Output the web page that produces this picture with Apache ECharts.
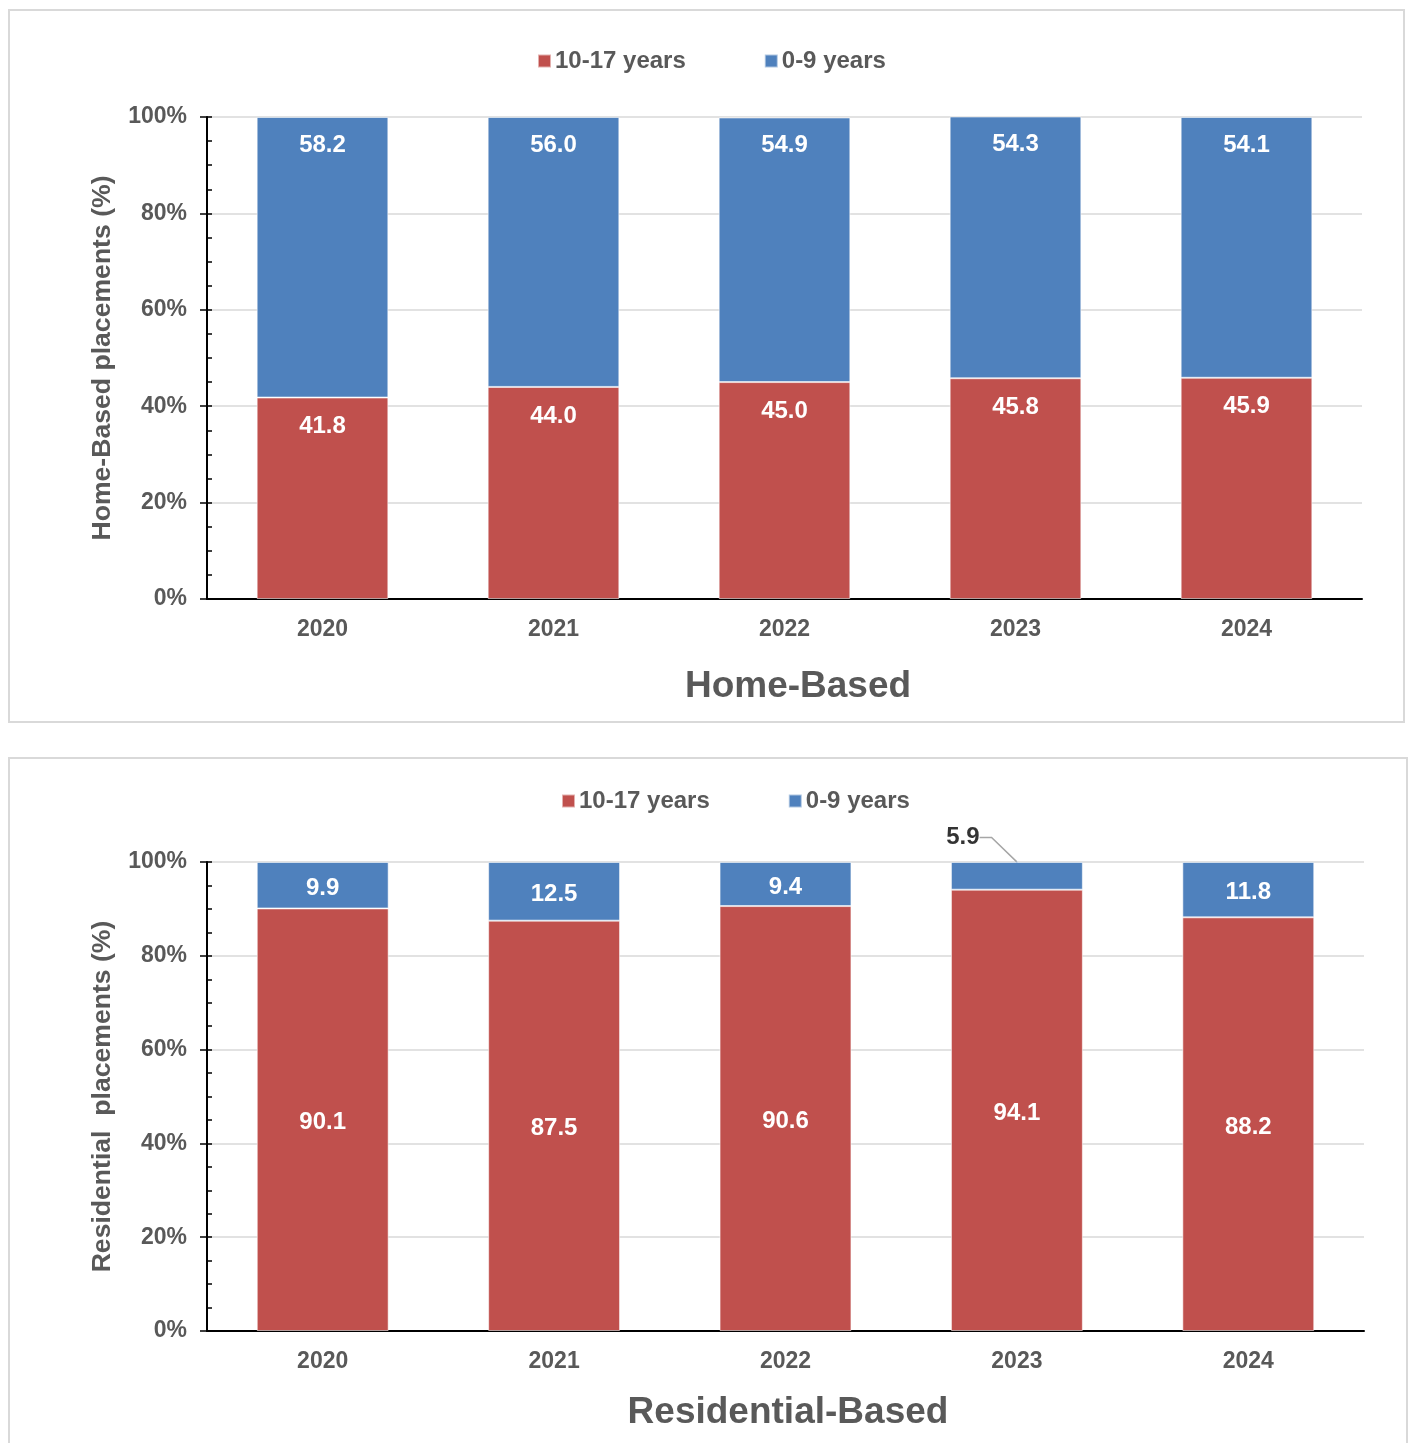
<!DOCTYPE html>
<html>
<head>
<meta charset="utf-8">
<script src="https://cdn.jsdelivr.net/npm/echarts@6/dist/echarts.min.js"></script>
<style>
  html, body { margin: 0; padding: 0; background: #fff; overflow: hidden; }
  .panel { position: absolute; box-sizing: border-box; border: 2px solid #d9d9d9; background: #fff; }
  #home { left: 8px; top: 9px; width: 1397px; height: 714px; }
  #resi { left: 8px; top: 757px; width: 1400px; height: 720px; }
</style>
</head>
<body>
<div id="home" class="panel"></div>
<div id="resi" class="panel"></div>
<script>
// Placement shares by age group (percent of placements)
const years = ['2020', '2021', '2022', '2023', '2024'];
const ageGroups = ['10-17 years', '0-9 years'];

const homeOlder   = [41.8, 44.0, 45.0, 45.8, 45.9];
const homeYounger = [58.2, 56.0, 54.9, 54.3, 54.1];

const resiOlder   = [90.1, 87.5, 90.6, 94.1, 88.2];
const resiYounger = [9.9, 12.5, 9.4, 5.9, 11.8];

// y axis runs 0..100 in steps of 20, minor ticks every 5
const yMin = 0, yMax = 100, yStep = 20;

const FONT = '"Liberation Sans", Arial, sans-serif';
const GREY = '#595959';
const RED = '#C0504D';
const BLUE = '#4F81BD';

const fmt1 = (v) => Number(v).toFixed(1);

function buildOption(cfg) {
  const labelBase = {
    show: true,
    color: '#fff',
    fontSize: 24,
    fontWeight: 'bold',
    fontFamily: FONT,
    formatter: p => fmt1(p.value)
  };
  const barStyle = (c) => ({ color: c, borderColor: 'rgba(255,255,255,0.55)', borderWidth: 1 });

  const series = [
    {
      name: ageGroups[0], type: 'bar', stack: 'share', yAxisIndex: 0,
      barCategoryGap: '43%',
      itemStyle: barStyle(RED),
      label: Object.assign({}, labelBase, cfg.olderLabel),
      data: cfg.older
    },
    {
      name: ageGroups[1], type: 'bar', stack: 'share', yAxisIndex: 0,
      barCategoryGap: '43%',
      itemStyle: barStyle(BLUE),
      label: Object.assign({}, labelBase, cfg.youngerLabel),
      data: cfg.younger
    }
  ];
  if (cfg.callouts) series.push(cfg.callouts);

  return {
    animation: false,
    textStyle: { fontFamily: FONT },
    title: {
      text: cfg.title,
      left: cfg.titleX,
      top: cfg.titleTop,
      textAlign: 'center',
      padding: 0,
      textStyle: { fontSize: 37, fontWeight: 'bold', color: GREY, fontFamily: FONT }
    },
    legend: {
      data: ageGroups,
      left: cfg.legendLeft,
      top: cfg.legendTop,
      padding: 0,
      icon: 'rect',
      itemWidth: 13,
      itemHeight: 13,
      itemGap: 78,
      textStyle: { fontSize: 24, fontWeight: 'bold', color: GREY, fontFamily: FONT, padding: [0, 0, 0, -1] }
    },
    grid: { left: cfg.grid.left, top: cfg.grid.top, width: cfg.grid.width, height: cfg.grid.height, containLabel: false },
    xAxis: {
      type: 'category',
      data: years,
      axisLine: { show: true, lineStyle: { color: '#000', width: 2 } },
      axisTick: { show: false },
      axisLabel: { fontSize: 23, fontWeight: 'bold', color: GREY, fontFamily: FONT, margin: 19 }
    },
    yAxis: [
      {
        type: 'value', min: yMin, max: yMax, interval: yStep, position: 'left',
        axisLine: { show: true, lineStyle: { color: '#000', width: 2 } },
        axisTick: { show: true, inside: true, length: 5, lineStyle: { color: '#000', width: 1.5 } },
        minorTick: { show: true, splitNumber: 4, length: 5, lineStyle: { color: '#000', width: 1.5 } },
        splitLine: { show: true, lineStyle: { color: '#d9d9d9', width: 1.5 } },
        axisLabel: { formatter: '{value}%', fontSize: 23, fontWeight: 'bold', color: GREY, fontFamily: FONT, margin: 20 },
        name: cfg.yName,
        nameLocation: 'middle',
        nameGap: 91,
        nameTextStyle: { fontSize: 26.6, fontWeight: 'bold', color: GREY, fontFamily: FONT }
      },
      {
        // outward half of the major ticks
        type: 'value', min: yMin, max: yMax, interval: yStep, position: 'left',
        axisLine: { show: false },
        axisTick: { show: true, inside: false, length: 7, lineStyle: { color: '#000', width: 1.5 } },
        axisLabel: { show: false },
        splitLine: { show: false }
      }
    ],
    series: series
  };
}

// Top panel: home-based placements
const homeChart = echarts.init(document.getElementById('home'));
homeChart.setOption(buildOption({
  title: 'Home-Based', titleX: 788, titleTop: 657,
  legendLeft: 527, legendTop: 38,
  grid: { left: 197, top: 106, width: 1155, height: 482 },
  yName: 'Home-Based placements (%)',
  older: homeOlder,
  younger: homeYounger,
  olderLabel: { position: 'insideTop', distance: 17 },
  youngerLabel: { position: 'insideTop', distance: 16 }
}));

// Bottom panel: residential-based placements.
// Slices too thin for an inside label get a callout above the bar with a leader line.
const isThin = (v) => v < 8;
const resiYoungerData = resiYounger.map((v) => (isThin(v) ? { value: v, label: { show: false } } : v));

const calloutData = [];
resiYounger.forEach((v, i) => {
  if (isThin(v)) calloutData.push({ value: [years[i], resiOlder[i] + v], share: v });
});

const resiCallouts = {
  type: 'scatter',
  silent: true,
  z: 5,
  symbol: 'circle',
  symbolSize: 1,
  itemStyle: { color: BLUE },
  label: {
    show: true,
    position: 'top',
    distance: 5,
    color: '#000',
    fontSize: 24,
    fontWeight: 'bold',
    fontFamily: FONT,
    padding: [0, 8, 0, 0],
    formatter: p => fmt1(p.data.share)
  },
  labelLine: { show: true, length2: 12, minTurnAngle: 90, lineStyle: { color: '#a6a6a6', width: 1.5 } },
  labelLayout: { dx: -50, dy: -7 },
  data: calloutData
};

const resiChart = echarts.init(document.getElementById('resi'));
resiChart.setOption(buildOption({
  title: 'Residential-Based', titleX: 778, titleTop: 635,
  legendLeft: 551, legendTop: 30,
  grid: { left: 197, top: 103, width: 1157, height: 469 },
  yName: 'Residential  placements (%)',
  older: resiOlder,
  younger: resiYoungerData,
  olderLabel: { position: 'inside', offset: [0, 3] },
  youngerLabel: { position: 'inside', offset: [0, 3] },
  callouts: resiCallouts
}));
</script>
</body>
</html>
